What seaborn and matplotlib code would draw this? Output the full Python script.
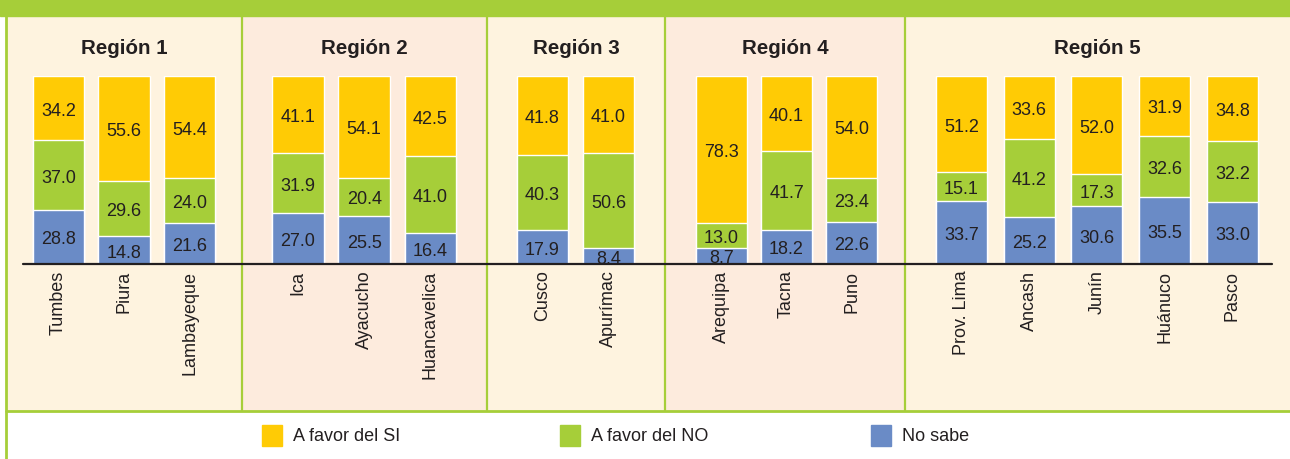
import matplotlib
matplotlib.use("Agg")

import matplotlib.pyplot as plt
import pandas as pd
import seaborn as sns
from matplotlib.lines import Line2D
from matplotlib.patches import Rectangle

# ── Data ───────────────────────────────────────────────────────────────
regions = ["Región 1", "Región 2", "Región 3", "Región 4", "Región 5"]
departments = [
    ["Tumbes", "Piura", "Lambayeque"],
    ["Ica", "Ayacucho", "Huancavelica"],
    ["Cusco", "Apurímac"],
    ["Arequipa", "Tacna", "Puno"],
    ["Prov. Lima", "Ancash", "Junín", "Huánuco", "Pasco"],
]
favor_si = [
    [34.2, 55.6, 54.4],
    [41.1, 54.1, 42.5],
    [41.8, 41.0],
    [78.3, 40.1, 54.0],
    [51.2, 33.6, 52.0, 31.9, 34.8],
]
favor_no = [
    [37.0, 29.6, 24.0],
    [31.9, 20.4, 41.0],
    [40.3, 50.6],
    [13.0, 41.7, 23.4],
    [15.1, 41.2, 17.3, 32.6, 32.2],
]
no_sabe = [
    [28.8, 14.8, 21.6],
    [27.0, 25.5, 16.4],
    [17.9, 8.4],
    [8.7, 18.2, 22.6],
    [33.7, 25.2, 30.6, 35.5, 33.0],
]
series_labels = ["A favor del SI", "A favor del NO", "No sabe"]

# ── Style / layout ─────────────────────────────────────────────────────
YELLOW = "#FFCB05"
GREEN = "#A6CE39"
BLUE = "#6A8BC6"
CREAM = "#FEF3DF"
PEACH = "#FDEBDD"
INK = "#231F20"

W, H = 1290, 460
panel_edges = [6, 242, 487, 665, 905, 1290]
panel_bg = [CREAM, PEACH, CREAM, PEACH, CREAM]
xlims = [(-0.80, 2.80), (-0.847, 2.855), (-0.84, 1.856), (-0.87, 2.823), (-0.834, 4.849)]
bar_widths = [0.78, 0.78, 0.77, 0.78, 0.753]
base_y, top_y = 265, 77  # pixel rows of 0 % and 100 %

sns.set_style("white")
plt.rcParams["font.family"] = ["Liberation Sans", "DejaVu Sans"]


def fx(px):
    return px / W


def fy(py):
    return 1 - py / H


fig = plt.figure(figsize=(W / 100, H / 100), dpi=100)
fig.patch.set_facecolor("white")

# panel backgrounds and frame (kept below the axes)
for i, bg in enumerate(panel_bg):
    x0, x1 = panel_edges[i], panel_edges[i + 1]
    fig.patches.append(Rectangle((fx(x0), fy(411)), fx(x1 - x0), (411 - 17) / H,
                                 transform=fig.transFigure, color=bg, zorder=-3))
fig.patches.append(Rectangle((0, fy(17)), 1, 17 / H, transform=fig.transFigure,
                             color=GREEN, zorder=-2))
for x in panel_edges[1:-1]:
    fig.add_artist(Line2D([fx(x), fx(x)], [fy(411), fy(17)], color=GREEN, lw=1.6, zorder=-2))
fig.add_artist(Line2D([fx(6), fx(6)], [0, 1], color=GREEN, lw=2.0, zorder=-2))
fig.add_artist(Line2D([fx(6), 1], [fy(412), fy(412)], color=GREEN, lw=2.0, zorder=-2))

# ── Bars ───────────────────────────────────────────────────────────────
for i, region in enumerate(regions):
    df = pd.DataFrame({
        "dept": departments[i],
        "si": favor_si[i],
        "no": favor_no[i],
        "ns": no_sabe[i],
    })
    df["top_no"] = df["no"] + df["ns"]
    df["top_si"] = df["si"] + df["top_no"]

    x0, x1 = panel_edges[i], panel_edges[i + 1]
    ax = fig.add_axes([fx(x0), fy(base_y), fx(x1 - x0), (base_y - top_y) / H])
    ax.set_facecolor("none")
    ax.set_zorder(2)
    w = bar_widths[i]
    # stacked look: draw the cumulative totals back to front
    sns.barplot(data=df, x="dept", y="top_si", color=YELLOW, saturation=1,
                width=w, errorbar=None, ax=ax)
    sns.barplot(data=df, x="dept", y="top_no", color=GREEN, saturation=1,
                width=w, errorbar=None, ax=ax)
    sns.barplot(data=df, x="dept", y="ns", color=BLUE, saturation=1,
                width=w, errorbar=None, ax=ax)

    for j, row in df.iterrows():
        for bottom, h in [(0, row["ns"]), (row["ns"], row["no"]), (row["top_no"], row["si"])]:
            ax.text(j, bottom + h / 2, f"{h:.1f}", ha="center", va="center_baseline",
                    fontsize=13, color=INK)

    ax.set_xlim(*xlims[i])
    ax.set_ylim(0, 100)
    ax.set_xlabel("")
    ax.set_ylabel("")
    ax.set_yticks([])
    ax.tick_params(axis="x", length=0, pad=4, labelsize=13, labelcolor=INK,
                   labelrotation=90)
    sns.despine(ax=ax, left=True, bottom=True)

    fig.text(fx((x0 + x1) / 2), fy(54), region, ha="center", va="baseline",
             fontsize=14.8, fontweight="bold", color=INK)

# baseline across all panels
fig.add_artist(Line2D([fx(23), fx(1272)], [fy(265), fy(265)], color=INK, lw=1.6, zorder=5))

# ── Legend ─────────────────────────────────────────────────────────────
for label, color, x in zip(series_labels, [YELLOW, GREEN, BLUE], [262, 560, 871]):
    fig.patches.append(Rectangle((fx(x), fy(447)), fx(20), 21 / H,
                                 transform=fig.transFigure, color=color))
    fig.text(fx(x + 31), fy(437), label, ha="left", va="center", fontsize=13, color=INK)

fig.savefig("out.png", dpi=100)
